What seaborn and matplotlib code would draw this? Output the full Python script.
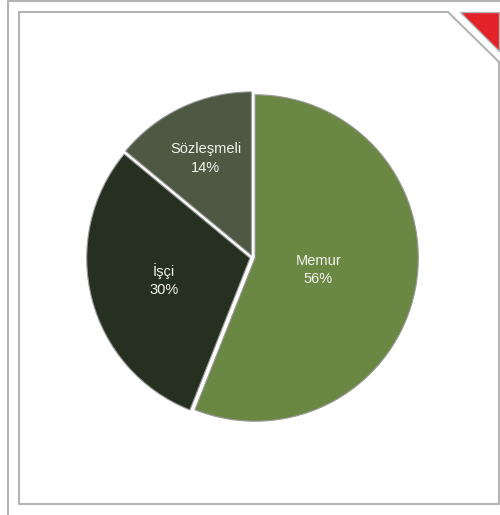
import numpy as np
import matplotlib
matplotlib.use("Agg")
import matplotlib.pyplot as plt
import seaborn as sns

# data
categories = ["Memur", "İşçi", "Sözleşmeli"]
shares = [56, 30, 14]
colors = ["#6a8743", "#263020", "#4f5842"]
label_dist = [0.41, 0.56, 0.67]

sns.set_theme(style="white")
plt.rcParams['font.family'] = ['Liberation Sans', 'DejaVu Sans']

fig = plt.figure(figsize=(5.0, 5.15), dpi=100)

# frame decoration in pixel coords
bg = fig.add_axes([0, 0, 1, 1])
bg.set_xlim(0, 500)
bg.set_ylim(515, 0)
bg.axis("off")
edge = "#b4b4b4"
bg.plot([8, 8, 500], [515, 1, 1], color=edge, lw=1.5)
box_x = [19, 448, 499, 499, 19, 19]
box_y = [12, 12, 62, 504, 504, 12]
bg.plot(box_x, box_y, color=edge, lw=1.5)
bg.fill([460, 499, 499], [12, 12, 51], color="#e32128", ec=edge, lw=1)

# pie
ax = fig.add_axes([86 / 500, 91 / 515, 333 / 500, 333 / 515])
wedges, _ = ax.pie(shares, colors=colors, startangle=90, counterclock=False,
                   explode=[0.016] * len(shares),
                   wedgeprops=dict(edgecolor="#9a9a9a", linewidth=0.8))
ax.set_xlim(-1.02, 1.02)
ax.set_ylim(-1.02, 1.02)
ax.set_aspect("equal")

for w, name, pct, d in zip(wedges, categories, shares, label_dist):
    ang = np.deg2rad((w.theta1 + w.theta2) / 2)
    ax.text(d * np.cos(ang), d * np.sin(ang), f"{name}\n{pct}%",
            ha="center", va="center", color="#f2f4ee", fontsize=10.5,
            linespacing=1.4)

fig.savefig("out.png", dpi=100)
